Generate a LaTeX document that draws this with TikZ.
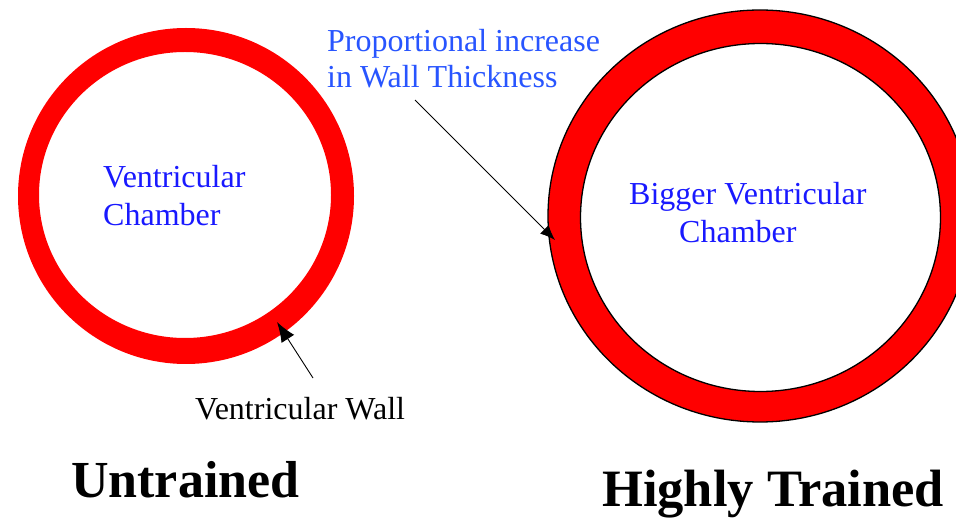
\documentclass[tikz,border=0pt]{standalone}
\usepackage{fontspec}
\setmainfont{Liberation Serif}
\usetikzlibrary{arrows.meta}
\definecolor{wallred}{RGB}{255,0,0}
\definecolor{chblue}{RGB}{25,25,255}
\definecolor{lblue}{RGB}{40,85,255}
\tikzset{
  lbl/.style={anchor=base west, inner sep=0pt, font=\fontsize{32}{38}\selectfont},
  title/.style={anchor=base west, inner sep=0pt, font=\bfseries},
}
\begin{document}
\begin{tikzpicture}[x=1pt,y=-1pt]
\useasboundingbox (0,0) rectangle (956,518);
\clip (0,0) rectangle (956,518);
\fill[white] (0,0) rectangle (956,518);
% untrained ring
\fill[wallred, even odd rule] (186,196) ellipse [x radius=168, y radius=168]
  (185,195) ellipse [x radius=146, y radius=143];
% highly trained ring
\fill[wallred, even odd rule] (760,216) ellipse [x radius=212, y radius=206]
  (760.5,217.5) ellipse [x radius=180, y radius=174];
\draw[black, line width=1.3pt] (760,216) ellipse [x radius=212, y radius=206];
\draw[black, line width=1.3pt] (760.5,217.5) ellipse [x radius=180, y radius=174];
% texts
\node[lbl, text=chblue] (vc1) at (103,188) {Ventricular};
\node[lbl, text=chblue] (vc2) at (103,226) {Chamber};
\node[lbl, text=chblue] (bvc1) at (629,205) {Bigger Ventricular};
\node[lbl, text=chblue] (bvc2) at (679,243) {Chamber};
\node[lbl, text=lblue] (pi1) at (327,52) {Proportional increase};
\node[lbl, text=lblue] (pi2) at (327,88) {in Wall Thickness};
\node[lbl, text=black] (vw) at (195,420) {Ventricular Wall};
\node[title, font=\bfseries\fontsize{52}{60}\selectfont] (ut) at (71,497) {Untrained};
\node[title, font=\bfseries\fontsize{52.5}{60}\selectfont] (ht) at (602,506) {Highly Trained};
% pointers
\coordinate (wallTail) at (313,378);
\coordinate (wallTip) at (277,322);
\coordinate (propTail) at (415,100);
\coordinate (propTip) at (555,240);
\draw[black, line width=0.9pt, -{Latex[length=20pt,width=15pt]}] (wallTail) -- (wallTip);
\draw[black, line width=0.9pt, -{Latex[length=15pt,width=12pt]}] (propTail) -- (propTip);
\end{tikzpicture}
\end{document}
